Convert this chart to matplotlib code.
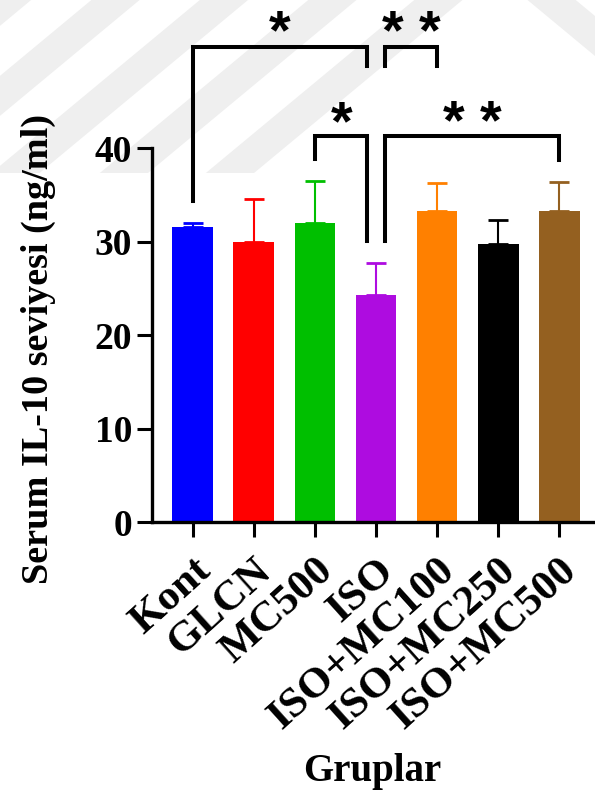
import matplotlib
matplotlib.use('Agg')
import matplotlib.pyplot as plt
from matplotlib.patches import Polygon, Rectangle

groups = ['Kont', 'GLCN', 'MC500', 'ISO', 'ISO+MC100', 'ISO+MC250', 'ISO+MC500']
means = [31.6, 30.0, 32.0, 24.3, 33.3, 29.8, 33.3]
sds = [0.4, 4.6, 4.5, 3.4, 3.0, 2.5, 3.1]
colors = ['#0000ff', '#ff0000', '#00bf00', '#ae0ce0', '#ff8000', '#000000', '#946020']
# (group a, group b, stars)
comparisons = [(0, 3, '*'), (3, 4, '* *'), (2, 3, '*'), (3, 6, '* *')]

plt.rcParams['font.family'] = ['Liberation Serif', 'DejaVu Serif']
plt.rcParams['font.weight'] = 'bold'

W, H = 595, 797
fig = plt.figure(figsize=(W / 100, H / 100), dpi=100)

# faint chevron watermark in the background (pixel coords from top-left)
clip = Rectangle((0, 1 - 173 / H), 1, 173 / H, transform=fig.transFigure, visible=False)
apex, s, thick = 495, 0.83, 40
for low in [-27, -115, -205, -295, -385]:
    up = low - thick
    far = 1200
    pts = [(apex - far, up + s * far), (apex, up), (apex + far, up + s * far),
           (apex + far, low + s * far), (apex, low), (apex - far, low + s * far)]
    pts = [(px / W, 1 - py / H) for px, py in pts]
    p = Polygon(pts, closed=True, facecolor='#efefef', edgecolor='none',
                transform=fig.transFigure, zorder=-5)
    p.set_clip_path(clip)
    fig.patches.append(p)

ax = fig.add_axes([0.255, 0.345, 0.745, 0.4687], zorder=2)
ax.patch.set_alpha(0)

x = list(range(len(groups)))
ax.bar(x, means, width=0.666, color=colors, zorder=2)
for i in x:
    ax.errorbar(i, means[i], yerr=[[0], [sds[i]]], color=colors[i], elinewidth=1.5,
                capsize=7.2, capthick=2, zorder=1)

ax.set_xlim(-0.671, 6.584)
ax.set_ylim(0, 40)
ax.set_yticks([0, 10, 20, 30, 40])
ax.set_xticks(x)
ax.set_xticklabels(groups, rotation=42, ha='right', va='top', rotation_mode='anchor')
ax.tick_params(axis='both', width=2.2, length=11, labelsize=27, pad=3)
ax.tick_params(axis='x', labelsize=31, pad=10)
for sp in ['top', 'right']:
    ax.spines[sp].set_visible(False)
for sp in ['left', 'bottom']:
    ax.spines[sp].set_linewidth(2.4)

fig.text(38 / W, 1 - 349 / H, 'Serum IL-10 seviyesi (ng/ml)', rotation=90,
         ha='center', va='center', fontsize=27.5, fontweight='bold')
fig.text(372 / W, 1 - 772 / H, 'Gruplar', ha='center', va='center',
         fontsize=28, fontweight='bold')

# significance brackets
tops = [m + sd for m, sd in zip(means, sds)]
gap = 2.4
off = 0.14
levels = [50.9, 50.9, 41.3, 41.3]
star_y = [54.0, 54.0, 44.3, 44.3]
for (a, b, stars), y, sy in zip(comparisons, levels, star_y):
    xa = a + off if a == 3 else a
    xb = b - off if b == 3 else b
    if y > 45:
        ya = tops[a] + gap if a == 0 else y - 2.1
        yb = y - 2.1
    else:
        ya = tops[a] + gap
        yb = tops[b] + gap
    ax.plot([xa, xa, xb, xb], [ya, y, y, yb], color='black', lw=2.9,
            solid_joinstyle='miter', clip_on=False)
    ax.text((xa + xb) / 2, sy - 3.3, stars, ha='center', va='baseline', fontsize=40,
            fontweight='bold', family=['Liberation Sans', 'DejaVu Sans'])

fig.savefig('out.png', dpi=100)
